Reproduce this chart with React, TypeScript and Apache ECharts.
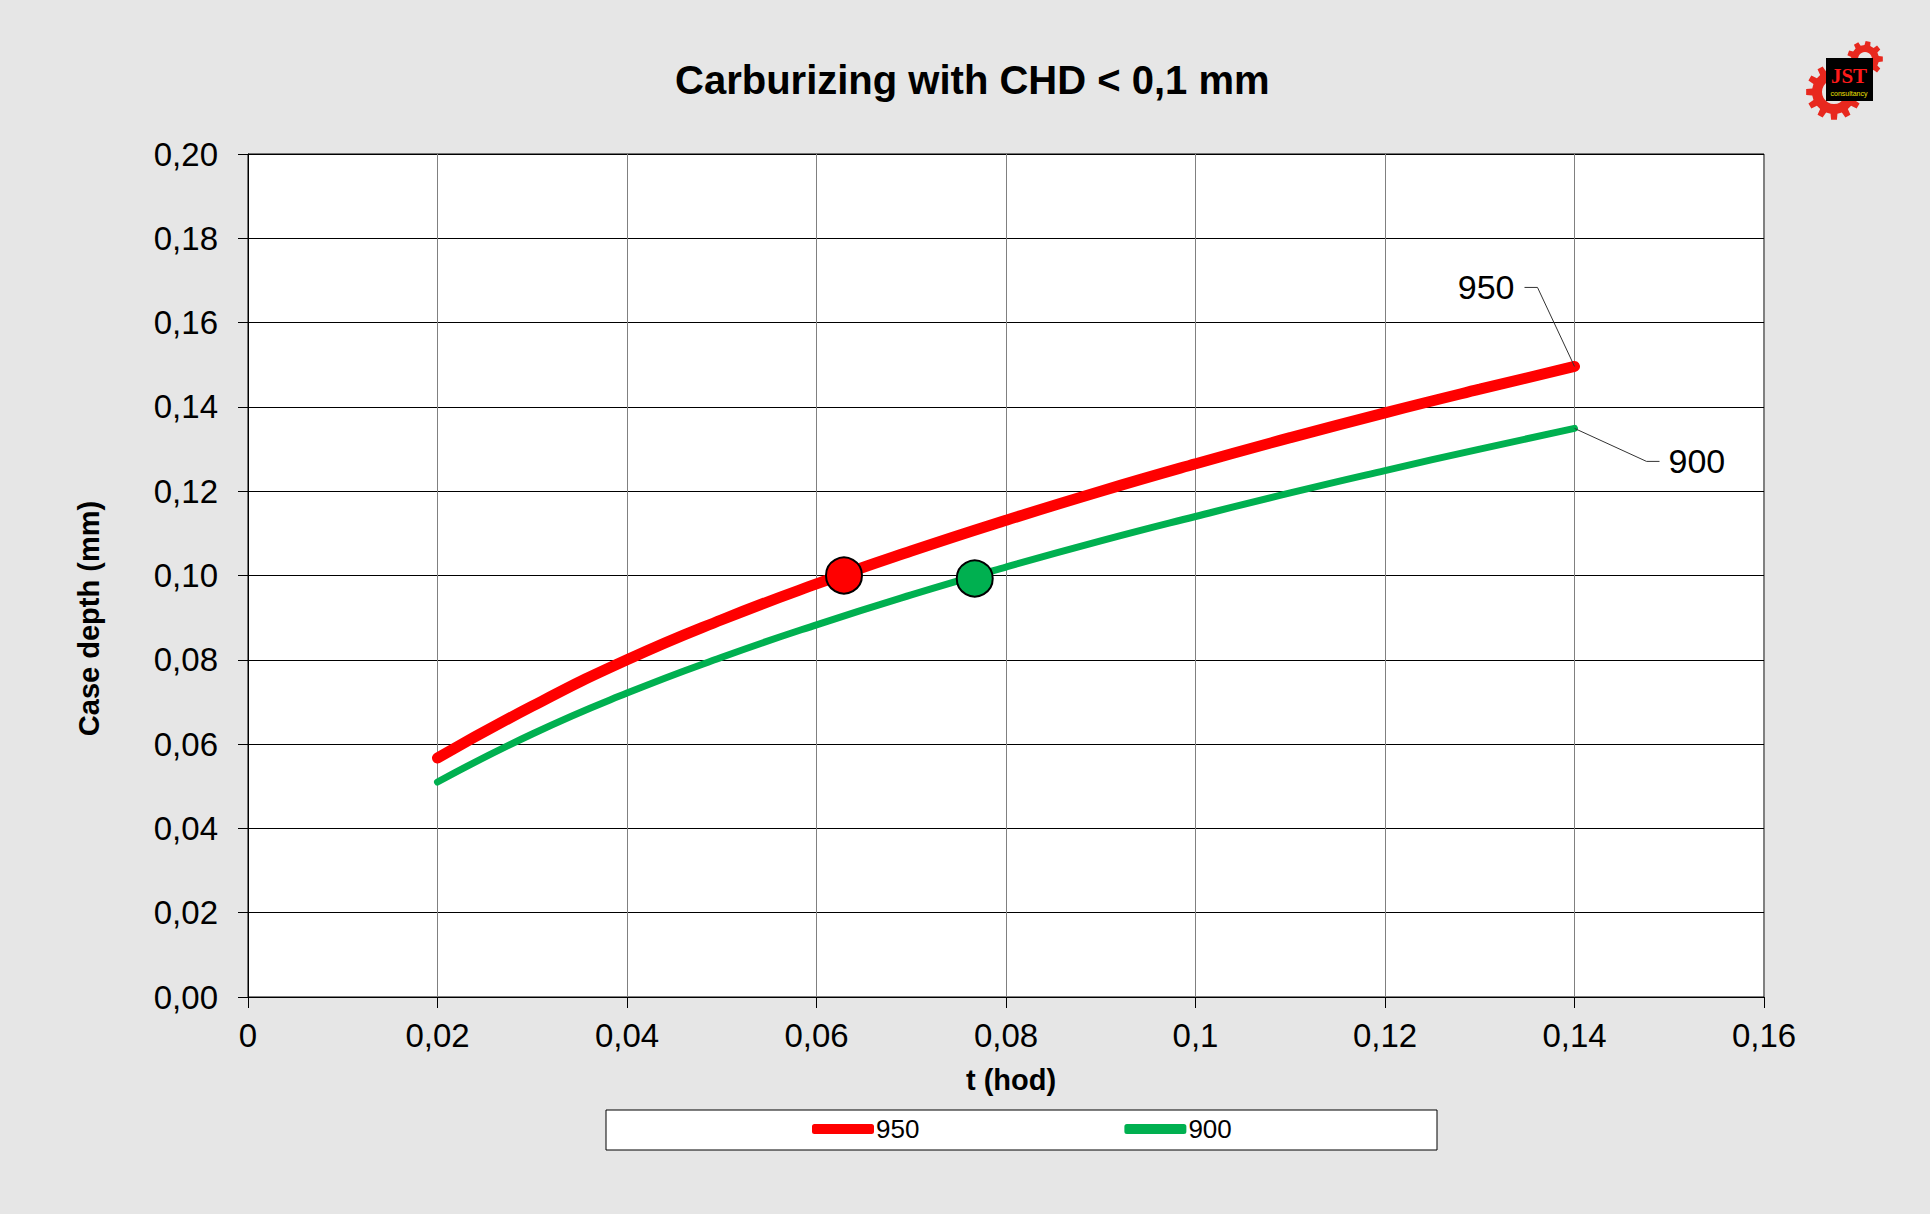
import React, { useEffect, useRef } from "react";
import * as echarts from "echarts";

// ---- data ----
const T_HOURS = [0.02, 0.03, 0.04, 0.05, 0.06, 0.07, 0.08, 0.09, 0.1, 0.11, 0.12, 0.13, 0.14];
const CHD_950 = [0.0567, 0.069, 0.08, 0.0895, 0.098, 0.1058, 0.1131, 0.12, 0.1265, 0.1327, 0.1386, 0.1442, 0.1496];
const CHD_900 = [0.051, 0.0624, 0.0721, 0.0806, 0.0883, 0.0954, 0.102, 0.1082, 0.114, 0.1196, 0.1249, 0.13, 0.1349];
const MARK_950 = [0.0629, 0.1];
const MARK_900 = [0.0767, 0.0993];
const SERIES_NAMES = ["950", "900"];
const X_RANGE = [0, 0.16, 0.02];
const Y_RANGE = [0, 0.2, 0.02];
const TITLE = "Carburizing with CHD < 0,1 mm";
const X_NAME = "t (hod)";
const Y_NAME = "Case depth (mm)";

const FONT = "'Liberation Sans', Arial, Helvetica, sans-serif";
const RED = "#ff0000";
const GREEN = "#00b050";
const BG = "#e6e6e6";

function gearPoints(cx: number, cy: number, rOut: number, rIn: number, n: number) {
  const pts: number[][] = [];
  const P = (Math.PI * 2) / n;
  for (let i = 0; i < n; i++) {
    const a = i * P;
    const arr = [
      [rIn, a - 0.3 * P],
      [rOut, a - 0.2 * P],
      [rOut, a + 0.2 * P],
      [rIn, a + 0.3 * P],
    ];
    arr.forEach(([r, t]) => pts.push([cx + r * Math.cos(t), cy + r * Math.sin(t)]));
  }
  return pts;
}

export default function App() {
  const ref = useRef<HTMLDivElement>(null);
  useEffect(() => {
    if (!ref.current) return;
    const chart = echarts.init(ref.current, null, { renderer: "svg" });
    const pts950 = T_HOURS.map((t, i) => [t, CHD_950[i]]);
    const pts900 = T_HOURS.map((t, i) => [t, CHD_900[i]]);
    const fmtX = (v: number) => String(parseFloat(v.toFixed(4))).replace(".", ",");
    const fmtY = (v: number) => v.toFixed(2).replace(".", ",");

    chart.setOption({
      animation: false,
      backgroundColor: BG,
      title: {
        text: TITLE,
        left: 670,
        top: 55,
        textStyle: { fontFamily: FONT, fontSize: 40, fontWeight: "bold", color: "#000" },
      },
      grid: {
        left: 248,
        right: 166,
        top: 154,
        bottom: 217,
        show: true,
        backgroundColor: "#ffffff",
        borderColor: "#000",
        borderWidth: 1,
      },
      legend: {
        data: SERIES_NAMES.map((n) => ({ name: n, icon: "roundRect" })),
        left: 812,
        top: 1116,
        itemWidth: 62,
        itemHeight: 10,
        itemGap: 205,
        padding: 0,
        textStyle: { fontFamily: FONT, fontSize: 26, color: "#000", padding: [0, 0, 0, -3] },
      },
      xAxis: {
        type: "value",
        min: X_RANGE[0],
        max: X_RANGE[1],
        interval: X_RANGE[2],
        name: X_NAME,
        nameLocation: "middle",
        nameGap: 68,
        nameTextStyle: {
          fontFamily: FONT,
          fontSize: 29,
          fontWeight: "bold",
          color: "#000",
          padding: [0, 0, 0, 10],
        },
        axisLine: { show: true, lineStyle: { color: "#000", width: 1 } },
        axisTick: { show: true, inside: false, length: 11, lineStyle: { color: "#000" } },
        axisLabel: { fontFamily: FONT, fontSize: 33, color: "#000", margin: 22, formatter: fmtX },
        splitLine: { show: true, lineStyle: { color: "#808080", width: 1 } },
      },
      yAxis: {
        type: "value",
        min: Y_RANGE[0],
        max: Y_RANGE[1],
        interval: Y_RANGE[2],
        name: Y_NAME,
        nameLocation: "middle",
        nameGap: 145,
        nameTextStyle: {
          fontFamily: FONT,
          fontSize: 29,
          fontWeight: "bold",
          color: "#000",
          padding: [0, 86, 0, 0],
        },
        axisLine: { show: true, lineStyle: { color: "#000", width: 1 } },
        axisTick: { show: true, inside: false, length: 10, lineStyle: { color: "#000" } },
        axisLabel: { fontFamily: FONT, fontSize: 33, color: "#000", margin: 30, formatter: fmtY },
        splitLine: { show: true, lineStyle: { color: "#000", width: 1 } },
      },
      series: [
        {
          name: SERIES_NAMES[0],
          type: "line",
          data: pts950,
          smooth: true,
          showSymbol: false,
          color: RED,
          lineStyle: { color: RED, width: 11, cap: "round" },
          z: 3,
        },
        {
          name: SERIES_NAMES[1],
          type: "line",
          data: pts900,
          smooth: true,
          showSymbol: false,
          color: GREEN,
          lineStyle: { color: GREEN, width: 7, cap: "round" },
          z: 2,
        },
        {
          name: "m950",
          type: "scatter",
          data: [MARK_950],
          symbol: "circle",
          symbolSize: 36,
          itemStyle: { color: RED, borderColor: "#000", borderWidth: 2, opacity: 1 },
          z: 5,
        },
        {
          name: "m900",
          type: "scatter",
          data: [MARK_900],
          symbol: "circle",
          symbolSize: 36,
          itemStyle: { color: GREEN, borderColor: "#000", borderWidth: 2, opacity: 1 },
          z: 5,
        },
      ],
    });

    const last = T_HOURS.length - 1;
    const e950 = chart.convertToPixel({ gridIndex: 0 }, [T_HOURS[last], CHD_950[last]]) as number[];
    const e900 = chart.convertToPixel({ gridIndex: 0 }, [T_HOURS[last], CHD_900[last]]) as number[];

    const gearBig = gearPoints(1834, 92, 28, 22, 12);
    const gearSmall = gearPoints(1865, 59, 18, 14, 9);

    chart.setOption({
      graphic: [
        {
          type: "rect",
          shape: { x: 606, y: 1110, width: 831, height: 40 },
          style: { fill: "#fff", stroke: "#000", lineWidth: 1 },
          z: -1,
        },
        {
          type: "polyline",
          shape: {
            points: [
              [e950[0], e950[1]],
              [e950[0] - 37, e950[1] - 79],
              [e950[0] - 50, e950[1] - 79],
            ],
          },
          style: { stroke: "#333", lineWidth: 1, fill: "none" },
          z: 10,
        },
        {
          type: "text",
          x: e950[0] - 60,
          y: e950[1] - 79,
          style: {
            text: SERIES_NAMES[0],
            fontFamily: FONT,
            fontSize: 34,
            fill: "#000",
            align: "right",
            verticalAlign: "middle",
          },
          z: 10,
        },
        {
          type: "polyline",
          shape: {
            points: [
              [e900[0], e900[1]],
              [e900[0] + 72, e900[1] + 33],
              [e900[0] + 85, e900[1] + 33],
            ],
          },
          style: { stroke: "#333", lineWidth: 1, fill: "none" },
          z: 10,
        },
        {
          type: "text",
          x: e900[0] + 94,
          y: e900[1] + 33,
          style: {
            text: SERIES_NAMES[1],
            fontFamily: FONT,
            fontSize: 34,
            fill: "#000",
            align: "left",
            verticalAlign: "middle",
          },
          z: 10,
        },
        // logo
        {
          type: "group",
          z: 20,
          children: [
            { type: "polygon", shape: { points: gearBig }, style: { fill: "#e8281e" } },
            { type: "circle", shape: { cx: 1834, cy: 92, r: 12 }, style: { fill: BG } },
            { type: "polygon", shape: { points: gearSmall }, style: { fill: "#e8281e" } },
            { type: "circle", shape: { cx: 1865, cy: 59, r: 7 }, style: { fill: BG } },
            { type: "rect", shape: { x: 1826, y: 58, width: 47, height: 43 }, style: { fill: "#000" } },
            {
              type: "text",
              x: 1849,
              y: 76,
              style: {
                text: "JST",
                fontFamily: "'Liberation Serif', serif",
                fontSize: 21,
                fontWeight: "bold",
                fill: "#ff1a1a",
                align: "center",
                verticalAlign: "middle",
              },
            },
            {
              type: "text",
              x: 1849,
              y: 93,
              style: {
                text: "consultancy",
                fontFamily: FONT,
                fontSize: 7,
                fill: "#f0e000",
                align: "center",
                verticalAlign: "middle",
              },
            },
          ],
        },
      ],
    });

    return () => chart.dispose();
  }, []);

  return (
    <div
      ref={ref}
      style={{ position: "absolute", left: 0, top: 0, width: 1930, height: 1214 }}
    />
  );
}
